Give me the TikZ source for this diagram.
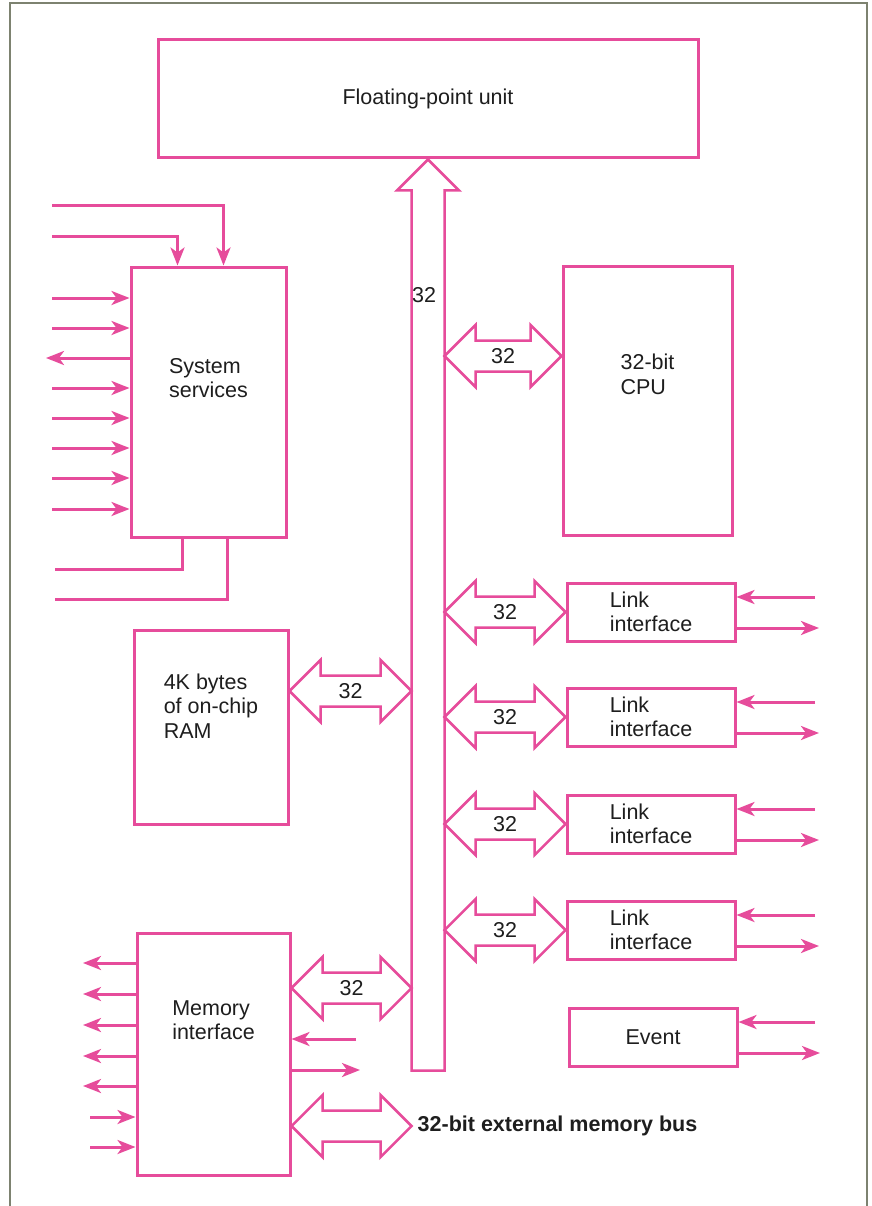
\documentclass[tikz,border=0pt]{standalone}
\usepackage{fontspec}
\setmainfont{Liberation Sans}
\usetikzlibrary{arrows.meta,calc}
\definecolor{chippink}{HTML}{E64C9B}
\definecolor{framegray}{HTML}{7D8270}
\definecolor{inkblack}{HTML}{1E1E1E}
\tikzset{
  lbl/.style={text=inkblack, align=left, inner sep=0pt, font=\fontsize{21.5}{24.5}\selectfont},
  blk/.style={lbl, draw=chippink, line width=3pt, fill=white},
  wire/.style={draw=chippink, line width=3pt},
  sig/.style={wire, -{Stealth[length=18pt,width=14pt,inset=5pt]}},
  busline/.style={draw=chippink, line width=2.5pt, line join=miter, fill=white}
}
% double bus arrow: name, left tip, right tip
\newcommand{\dblbus}[3]{%
  \draw[busline] (#2) -- ++(31,-31) -- ++(0,15.5) -- ($(#3)+(-31,-15.5)$) -- ++(0,-15.5)
    -- (#3) -- ++(-31,31) -- ++(0,-15.5) -- ($(#2)+(31,15.5)$) -- ++(0,15.5) -- cycle;
  \node[lbl] (#1) at ($(#2)!0.5!(#3)$) {32};}

\begin{document}
\begin{tikzpicture}[x=1pt, y=-1pt]
  \useasboundingbox (0,0) rectangle (871,1206);
  \draw[framegray, line width=1.5pt] (10,1206) -- (10,3) -- (867,3) -- (867,1206);

  % blocks
  \node[blk, minimum width=540pt, minimum height=118pt] (fpu) at (428,99) {Floating-point unit};
  \node[blk, minimum width=155pt, minimum height=270pt] (sys) at (208.5,402) {};
  \node[blk, minimum width=169pt, minimum height=269pt] (cpu) at (647.5,400.5) {};
  \node[blk, minimum width=154pt, minimum height=194pt] (ram) at (211,727) {};
  \node[blk, minimum width=153pt, minimum height=242pt] (mem) at (213.5,1054) {};
  \node[blk, minimum width=168pt, minimum height=58pt] (event) at (653,1037) {Event};

  \node[lbl] (systxt) at ([yshift=24pt]sys.center) {System\\services};
  \node[lbl] (cputxt) at ([yshift=26pt]cpu.center) {32-bit\\CPU};
  \node[lbl] (ramtxt) at ([yshift=21pt]ram.center) {4K bytes\\of on-chip\\RAM};
  \node[lbl] (memtxt) at ([yshift=34pt]mem.center) {Memory\\interface};

  % internal bus
  \coordinate (busTip) at (fpu.south);
  \coordinate (busL) at ($(busTip)+(-16.5,0)$);
  \coordinate (busR) at ($(busTip)+(16.5,0)$);
  \draw[busline] (busTip) -- ++(31,31) -- ++(-14.5,0) -- ++(0,880) -- ++(-33,0)
    -- ++(0,-880) -- ++(-14.5,0) -- cycle;
  \node[lbl] (busnum) at ($(busTip)+(-4,136)$) {32};

  \coordinate (cpuP) at ([yshift=44.5pt]cpu.west);
  \dblbus{cpunum}{busR |- cpuP}{cpuP}
  \coordinate (ramP) at ([yshift=36pt]ram.east);
  \dblbus{ramnum}{ramP}{busL |- ramP}
  \coordinate (memP) at ([yshift=66pt]mem.east);
  \dblbus{memnum}{memP}{busL |- memP}

  % link interfaces
  \foreach \n/\y in {1/612, 2/717, 3/824, 4/930} {
    \node[blk, minimum width=168pt, minimum height=58pt] (link\n) at (651,\y) {Link\\interface};
    \dblbus{linknum\n}{busR |- link\n.west}{link\n.west}
    \coordinate (linkin\n) at (815,\y-15);
    \coordinate (linkout\n) at (819,\y+16);
    \draw[sig] (linkin\n) -- (linkin\n -| link\n.east);
    \draw[sig] (linkout\n -| link\n.east) -- (linkout\n);
  }
  \coordinate (eventin) at (815,1022);
  \coordinate (eventout) at (820,1053);
  \draw[sig] (eventin) -- (eventin -| event.east);
  \draw[sig] (eventout -| event.east) -- (eventout);

  % system services signals
  \coordinate (sysA) at (52,206);
  \coordinate (sysB) at (52,237);
  \draw[sig] (sysA) -| ([xshift=15pt]sys.north);
  \draw[sig] (sysB) -| ([xshift=-31pt]sys.north);
  \foreach \y [count=\i] in {298,328,388,418,448,478,509} {
    \coordinate (sysin\i) at (52,\y);
    \draw[sig] (sysin\i) -- (sysin\i -| sys.west);
  }
  \coordinate (sysout) at (46,358);
  \draw[sig] (sysout -| sys.west) -- (sysout);
  \coordinate (sysC) at (55,569);
  \coordinate (sysD) at (55,599);
  \draw[wire] ([xshift=-26pt]sys.south) |- (sysC);
  \draw[wire] ([xshift=19pt]sys.south) |- (sysD);

  % memory interface signals
  \foreach \y [count=\i] in {963,994,1025,1056,1086} {
    \coordinate (memout\i) at (83,\y);
    \draw[sig] (memout\i -| mem.west) -- (memout\i);
  }
  \foreach \y [count=\i] in {1117,1147} {
    \coordinate (memin\i) at (90,\y);
    \draw[sig] (memin\i) -- (memin\i -| mem.west);
  }
  \coordinate (memrin) at (356,1039);
  \coordinate (memrout) at (360,1070);
  \draw[sig] (memrin) -- (memrin -| mem.east);
  \draw[sig] (memrout -| mem.east) -- (memrout);

  % external bus
  \coordinate (extP) at ([yshift=-72pt]mem.east);
  \draw[busline] (extP) -- ++(31,-31) -- ++(0,15.5) -- ($(busL |- extP)+(-31,-15.5)$) -- ++(0,-15.5)
    -- (busL |- extP) -- ++(-31,31) -- ++(0,-15.5) -- ($(extP)+(31,15.5)$) -- ++(0,15.5) -- cycle;
  \node[lbl, anchor=west, font=\fontsize{21.5}{24.5}\selectfont\bfseries] (extbus)
    at ([xshift=6pt]busL |- extP) {32-bit external memory bus};
\end{tikzpicture}
\end{document}
